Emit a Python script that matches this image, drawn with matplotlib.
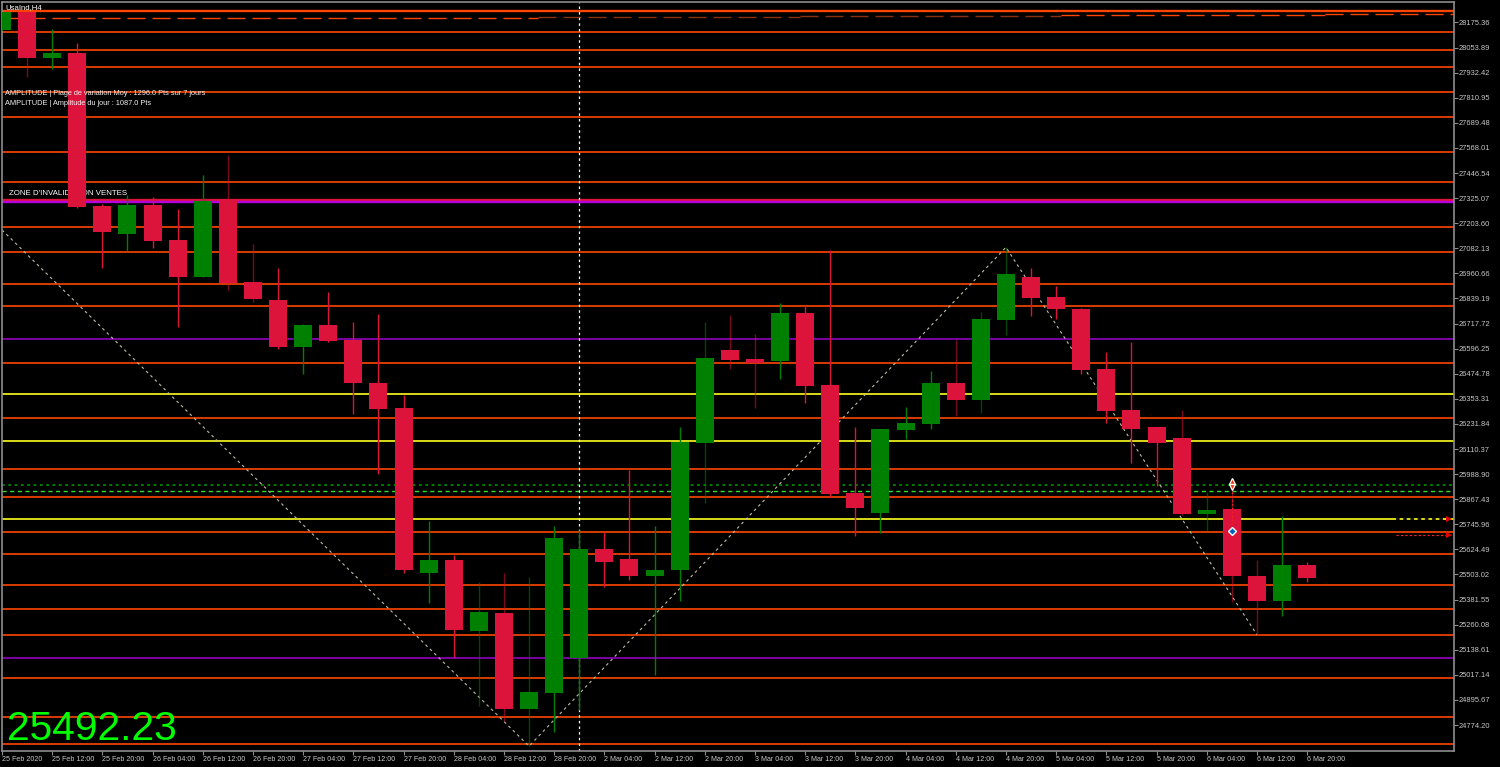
import matplotlib
matplotlib.use("Agg")
import matplotlib.pyplot as plt

# UsaInd H4 candles
opens = [28139, 28226, 28003, 28030, 27287, 27153, 27292, 27122, 26945, 27321,
         26917, 26830, 26603, 26709, 26638, 26428, 26309, 25509, 25573, 25229,
         25318, 24852, 24931, 25100, 25626, 25578, 25494, 25526, 26141, 26588,
         26546, 26536, 26769, 26420, 25896, 25802, 26204, 26231, 26430, 26348,
         26735, 26943, 26846, 26788, 26496, 26299, 26215, 26162, 25794, 25820,
         25494, 25373, 25550]
highs = [28226, 28226, 28144, 28076, 27297, 27340, 27332, 27272, 27437, 27534,
         27103, 26987, 26716, 26870, 26724, 26764, 26372, 25762, 25597, 25465,
         25509, 25489, 25738, 25718, 25710, 26009, 25739, 26218, 26724, 26759,
         26667, 26819, 26808, 27074, 26215, 26207, 26312, 26488, 26638, 26774,
         27087, 26987, 26901, 26794, 26580, 26628, 26215, 26299, 25904, 25936,
         25573, 25786, 25563]
lows = [28139, 27911, 27950, 27277, 26988, 27070, 27085, 26702, 26945, 26880,
        26824, 26596, 26473, 26628, 26280, 25988, 25512, 25366, 25103, 24868,
        24795, 24672, 24742, 24847, 25441, 25476, 25016, 25376, 25847, 26498,
        26310, 26448, 26335, 25877, 25691, 25705, 26159, 26207, 26272, 26285,
        26662, 26754, 26740, 26473, 26238, 26041, 25933, 25791, 25715, 25371,
        25211, 25303, 25466]
closes = [28226, 28005, 28030, 27282, 27162, 27293, 27119, 26945, 27311, 26914,
          26835, 26603, 26709, 26633, 26428, 26305, 25525, 25573, 25233, 25321,
          24852, 24932, 25680, 25626, 25565, 25494, 25525, 26146, 26550, 26541,
          26528, 26769, 26417, 25894, 25826, 26207, 26236, 26430, 26348, 26740,
          26956, 26843, 26788, 26493, 26294, 26207, 26141, 25794, 25815, 25494,
          25373, 25550, 25487]

# these wicks look darker in the screenshot
dim_wicks = [1, 9, 10, 19, 20, 21, 28, 29, 30, 38, 39, 40, 47, 48, 49, 50]

orange_levels = [28129, 28042, 27961, 27837, 27719, 27548, 27403, 27184, 27066,
                 26911, 26804, 26527, 26260, 26014, 25878, 25710, 25601, 25452,
                 25336, 25210, 25002, 24814, 24682]
top_level = 28231
purple_levels = [26641, 25099]
yellow_levels = [26375, 26148, 25771]
invalid_level = [27314, 27308]

# stepped dashed trend line along the top
trend_edges = [0, 11, 21.35, 31.8, 42.2, 52.7, 57.85]
trend_prices = [28195, 28199, 28202, 28206, 28210, 28215]
trend_dark = [False, False, True, True, False, False]

zigzag_bars = [0, 21, 40, 50]
zigzag_prices = [27171, 24672, 27087, 25211]

price_ticks = [28175.36, 28053.89, 27932.42, 27810.95, 27689.48, 27568.01,
               27446.54, 27325.07, 27203.60, 27082.13, 26960.66, 26839.19,
               26717.72, 26596.25, 26474.78, 26353.31, 26231.84, 26110.37,
               25988.90, 25867.43, 25745.96, 25624.49, 25503.02, 25381.55,
               25260.08, 25138.61, 25017.14, 24895.67, 24774.20]
time_labels = ["25 Feb 2020", "25 Feb 12:00", "25 Feb 20:00", "26 Feb 04:00",
               "26 Feb 12:00", "26 Feb 20:00", "27 Feb 04:00", "27 Feb 12:00",
               "27 Feb 20:00", "28 Feb 04:00", "28 Feb 12:00", "28 Feb 20:00",
               "2 Mar 04:00", "2 Mar 12:00", "2 Mar 20:00", "3 Mar 04:00",
               "3 Mar 12:00", "3 Mar 20:00", "4 Mar 04:00", "4 Mar 12:00",
               "4 Mar 20:00", "5 Mar 04:00", "5 Mar 12:00", "5 Mar 20:00",
               "6 Mar 04:00", "6 Mar 12:00", "6 Mar 20:00"]

UP = "#008000"
DOWN = "#dc143c"
ORANGE = "#ff4500"
GREY = "#8c8c8c"
LABEL = "#c8c8c8"

plt.rcParams["font.family"] = ["Liberation Sans", "DejaVu Sans"]

W, H = 1500, 767
fig = plt.figure(figsize=(15, 7.67), dpi=100, facecolor="black")
ax = fig.add_axes([2 / W, 1 - 750.7 / H, 1452 / W, 748.7 / H], facecolor="black")
ax.set_xlim(0, 57.85)
ax.set_ylim(24649.8, 28274.5)

# levels
ax.hlines(orange_levels, 0, 57.85, color=ORANGE, lw=1.2, zorder=1)
ax.hlines(top_level, 0, 57.85, color=ORANGE, lw=1.7, zorder=1)
ax.hlines(purple_levels, 0, 57.85, color="#8f00c0", lw=1.2, zorder=1)
ax.hlines(yellow_levels, 0, 57.85, color="#ffff20", lw=1.2, zorder=1)
ax.hlines(invalid_level[0], 0, 57.85, color=DOWN, lw=1.7, zorder=1)
ax.hlines(invalid_level[1], 0, 57.85, color="#b400dc", lw=1.7, zorder=1)
ax.hlines(25936, 0, 57.85, color="#008a00", lw=1.3, linestyles=(0, (1.5, 2)), zorder=1)
ax.hlines(25906, 0, 57.85, color="#2ee02e", lw=1.0, linestyles=(0, (3, 2.5)), zorder=1)

for k in range(len(trend_prices)):
    col = "#8a3210" if trend_dark[k] else ORANGE
    ax.plot(trend_edges[k:k + 2], [trend_prices[k]] * 2, color=col, lw=1.0,
            dashes=(13, 5), zorder=1)

ax.axvline(23, color="white", lw=0.9, dashes=(2, 2.5), zorder=2)
ax.plot(zigzag_bars, zigzag_prices, color="#c4bca8", lw=0.8, dashes=(2.5, 3), zorder=2)

ax.text(0.28, 27345, "ZONE D'INVALIDATION VENTES", color="white", fontsize=5.7,
        va="center", zorder=2)

# candles
for i in range(len(opens)):
    col = UP if closes[i] >= opens[i] else DOWN
    ax.vlines(i, lows[i], highs[i], color=col, lw=1.0, alpha=0.55 if i in dim_wicks else 1, zorder=3)
    ax.bar(i, abs(closes[i] - opens[i]), bottom=min(opens[i], closes[i]),
           width=0.717, color=col, linewidth=0, zorder=4)

# right side order marks
ax.plot([55.54, 57.7], [25771, 25771], color="black", lw=1.3, dashes=(2, 2), zorder=5)
ax.plot([55.54, 57.7], [25694, 25694], color="#ff2020", lw=0.8, dashes=(2, 2), zorder=5)
ax.plot([57.66, 57.66], [25771, 25694], ls="", marker=">", ms=4, color="#e00000", mew=0, zorder=5)

# trade marks on the 6 Mar 04:00 bar
ax.plot([49, 49], [25941, 25713], color="#ff2020", lw=0.8, dashes=(1.5, 2), zorder=5)
ax.plot(49, 25955, marker="^", ms=5, color="#f03010", mec="white", mew=0.9, zorder=6)
ax.plot(49, 25927, marker="v", ms=5, color="#f03010", mec="white", mew=0.9, zorder=6)
ax.plot(49, 25713, marker="D", ms=4.5, color="#0060c0", mec="white", mew=1.0, zorder=6)

# texts on the chart
ax.text(0.12, 28250, "UsaInd,H4", color="white", fontsize=5.6, va="center", zorder=7)
ax.text(0.12, 27831, "AMPLITUDE | Plage de variation Moy : 1296.0 Pts sur 7 jours",
        color="#f0f0f0", fontsize=5.35, va="center", zorder=7)
ax.text(0.12, 27785, "AMPLITUDE | Amplitude du jour : 1087.0 Pts",
        color="#f0f0f0", fontsize=5.35, va="center", zorder=7)
ax.text(0.2, 24702, "25492.23", color="#00ff00", fontsize=29.3, va="baseline", zorder=7)

# axes
for s in ax.spines.values():
    s.set_color(GREY)
    s.set_linewidth(1.2)
ax.yaxis.tick_right()
ax.set_yticks(price_ticks, ["%.2f" % p for p in price_ticks])
ax.set_xticks(range(0, 53, 2), time_labels, ha="left")
ax.tick_params(axis="y", colors=LABEL, labelsize=5.4, length=3, width=0.8, pad=0.5, color=GREY)
ax.tick_params(axis="x", colors=LABEL, labelsize=5.15, length=3, width=0.8, pad=0.6, color=GREY)

fig.savefig("out.png", dpi=100, facecolor="black")
